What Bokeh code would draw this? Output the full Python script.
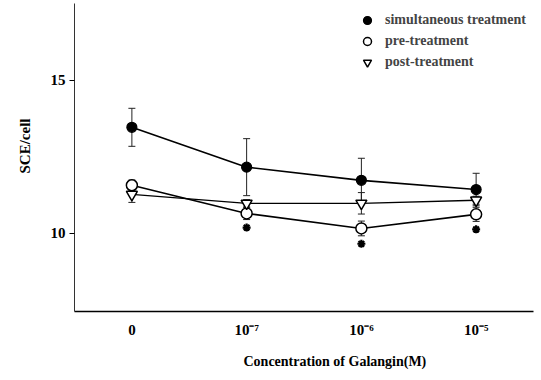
from bokeh.plotting import figure
from bokeh.models import (ColumnDataSource, Whisker, TeeHead, FixedTicker, Legend,
                          LegendItem, Range1d, FactorRange, Title)
from bokeh.embed import file_html
from bokeh.resources import INLINE

concentrations = ["0", "10\u207b\u2077", "10\u207b\u2076", "10\u207b\u2075"]
simul = [13.46, 12.16, 11.73, 11.43]
simul_err = [0.62, 0.93, 0.72, 0.53]
pre = [11.57, 10.65, 10.16, 10.62]
pre_err = [0.17, 0.2, 0.24, 0.23]
post = [11.27, 10.98, 10.98, 11.08]
post_err = [0.26, 0.12, 0.35, 0.13]
significant = [False, True, True, True]
y_ticks = [10, 15]
series_names = ["simultaneous treatment", "pre-treatment", "post-treatment"]
x_title = "Concentration  of  Galangin(M)"
y_title = "SCE/cell"

FONT = "Liberation Serif"

p = figure(width=541, height=380, output_backend="svg", toolbar_location=None,
           x_range=FactorRange(factors=concentrations, range_padding=0),
           y_range=Range1d(7.45, 17.5),
           min_border_left=73, min_border_right=8, min_border_top=3, min_border_bottom=69)
p.grid.visible = False
p.outline_line_color = None
p.background_fill_color = "white"

def src(vals, errs):
    return ColumnDataSource(dict(x=concentrations, y=vals,
                                 upper=[v + e for v, e in zip(vals, errs)],
                                 lower=[v - e for v, e in zip(vals, errs)]))

s_src = src(simul, simul_err)
pr_src = src(pre, pre_err)
po_src = src(post, post_err)

for s in (s_src, pr_src, po_src):
    w = Whisker(source=s, base="x", upper="upper", lower="lower", dimension="height",
                line_color="#222222", line_width=1,
                upper_head=TeeHead(size=7, line_color="#222222", line_width=1),
                lower_head=TeeHead(size=7, line_color="#222222", line_width=1))
    p.add_layout(w)

p.line("x", "y", source=s_src, line_color="black", line_width=1.6)
p.line("x", "y", source=pr_src, line_color="black", line_width=1.6)
p.line("x", "y", source=po_src, line_color="black", line_width=1.3)

r_s = p.scatter("x", "y", source=s_src, marker="circle", size=10,
                fill_color="black", line_color="black", line_width=1.2)
r_pr = p.scatter("x", "y", source=pr_src, marker="circle", size=11,
                 fill_color="white", line_color="black", line_width=1.5)
r_po = p.scatter("x", "y", source=po_src, marker="inverted_triangle", size=11,
                 fill_color="white", line_color="black", line_width=1.5)

star_x = [c for c, sig in zip(concentrations, significant) if sig]
star_y = [v - e - 0.26 for v, e, sig in zip(pre, pre_err, significant) if sig]
p.scatter(star_x, star_y, marker="asterisk", size=8, line_color="black", line_width=2.2)

legend = Legend(items=[LegendItem(label=series_names[0], renderers=[r_s]),
                       LegendItem(label=series_names[1], renderers=[r_pr]),
                       LegendItem(label=series_names[2], renderers=[r_po])],
                location=(283, 239), border_line_color=None, background_fill_alpha=0,
                padding=0, margin=0, spacing=1, glyph_width=20, glyph_height=20,
                label_height=20, label_standoff=8,
                label_text_font=FONT, label_text_font_style="bold",
                label_text_font_size="14px")
p.add_layout(legend)

# axes
p.yaxis.ticker = FixedTicker(ticks=y_ticks)
p.yaxis.minor_tick_line_color = None
p.yaxis.major_tick_out = 5
p.yaxis.major_tick_in = 0
p.yaxis.major_label_standoff = 4
p.yaxis.axis_line_color = "#333333"
p.yaxis.axis_line_width = 1

p.xaxis.major_tick_line_color = None
p.xaxis.major_tick_out = 0
p.xaxis.major_label_standoff = 10
p.xaxis.axis_line_color = "black"
p.xaxis.axis_line_width = 1.5

for ax in (p.xaxis, p.yaxis):
    ax.major_label_text_font = FONT
    ax.major_label_text_font_style = "bold"
    ax.major_label_text_font_size = "15px"
    ax.major_label_text_color = "black"

xt = Title(text=x_title, align="left", offset=169, standoff=22,
           text_font=FONT, text_font_style="bold", text_font_size="14px", text_color="black")
p.add_layout(xt, "below")
yt = Title(text=y_title, align="left", offset=138, standoff=29,
           text_font=FONT, text_font_style="bold", text_font_size="15px", text_color="black")
p.add_layout(yt, "left")

open("out.html", "w").write(file_html(p, INLINE))
